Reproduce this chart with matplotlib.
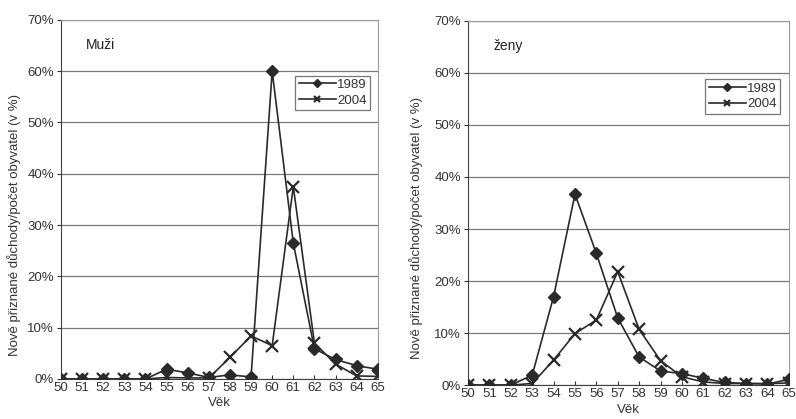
import numpy as np
import matplotlib
matplotlib.use("Agg")
import matplotlib.pyplot as plt
from matplotlib.ticker import PercentFormatter

plt.rcParams['font.family'] = ['Liberation Sans', 'DejaVu Sans']

vek = list(range(50, 66))

# muzi, v %
muzi_1989 = [0, 0, 0, 0, 0, 1.9, 1.2, 0.3, 0.8, 0.4, 60.0, 26.5, 5.9, 3.8, 2.6, 1.9]
muzi_2004 = [0, 0, 0, 0, 0, 0.3, 0.2, 0.2, 4.2, 8.4, 6.5, 37.5, 7.0, 2.9, 0.6, 0.5]

# zeny, v %
zeny_1989 = [0, 0, 0, 1.9, 17.0, 36.7, 25.3, 12.9, 5.4, 2.7, 2.2, 1.3, 0.5, 0.3, 0.2, 1.1]
zeny_2004 = [0, 0, 0, 0.3, 4.8, 9.9, 12.5, 21.8, 10.7, 4.7, 1.6, 0.6, 0.3, 0.3, 0.3, 0.4]

ylab = "Nově přiznané důchody/počet obyvatel (v %)"
clr = "#2a2a2a"

fig = plt.figure(figsize=(7.96, 4.19), dpi=100)
ax1 = fig.add_axes([0.0766, 0.0955, 0.398, 0.857])
ax2 = fig.add_axes([0.588, 0.081, 0.403, 0.869])


def draw(ax, d89, d04, nazev, leg_box, xlpad):
    ax.plot(vek, d89, color=clr, lw=1.2, marker="D", ms=6.5, label="1989", zorder=3)
    ax.plot(vek, d04, color=clr, lw=1.2, marker="x", ms=8, mew=1.6, label="2004", zorder=3)
    ax.set_xlim(50, 65)
    ax.set_ylim(0, 70)
    ax.set_xticks(vek)
    ax.set_yticks(np.arange(0, 71, 10))
    ax.yaxis.set_major_formatter(PercentFormatter(decimals=0))
    ax.grid(axis="y", color="#7a7a7a", lw=0.9)
    ax.set_axisbelow(True)
    for s in ["top", "right"]:
        ax.spines[s].set_color("#9a9a9a")
    for s in ["left", "bottom"]:
        ax.spines[s].set_color("#404040")
    ax.tick_params(labelsize=9.5, colors="#333333", length=3, pad=2)
    ax.tick_params(axis="x", direction="in", length=3)
    ax.tick_params(axis="y", length=3)
    ax.set_xlabel("Věk", fontsize=9.5, color="#333333", labelpad=xlpad)
    ax.set_ylabel(ylab, fontsize=9.5, color="#333333")
    ax.text(0.08, 0.93, nazev, transform=ax.transAxes, fontsize=10, color="#222222", va="center")
    leg = ax.legend(loc="upper left", bbox_to_anchor=leg_box, fontsize=9.5, frameon=True,
                    fancybox=False, edgecolor="#555555", handlelength=2.8, borderpad=0.25,
                    labelspacing=0.25, handletextpad=0.1, borderaxespad=0, markerscale=0.6)
    leg.get_frame().set_linewidth(0.9)
    for t in leg.get_texts():
        t.set_color("#333333")


draw(ax1, muzi_1989, muzi_2004, "Muži", (0.74, 0.845), 2)
ax1.yaxis.set_label_coords(-0.125, 0.43)
draw(ax2, zeny_1989, zeny_2004, "ženy", (0.74, 0.84), 3)
ax2.yaxis.set_label_coords(-0.14, 0.43)

fig.savefig("out.png", dpi=100)
